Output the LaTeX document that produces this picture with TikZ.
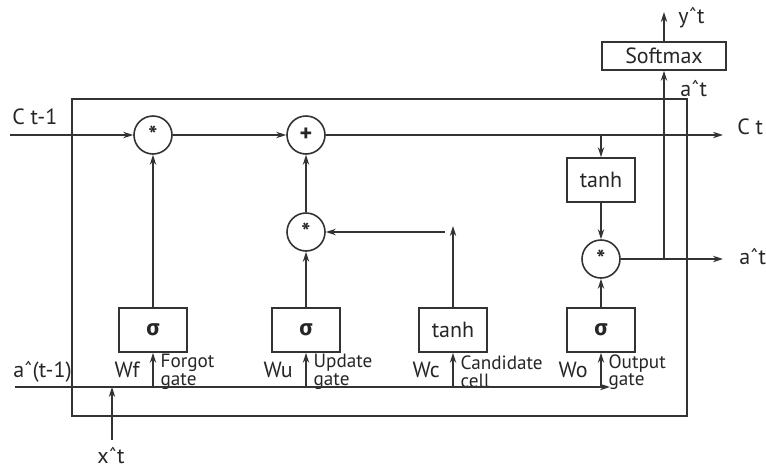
\documentclass[tikz,border=0pt]{standalone}
\usepackage{fontspec}
\setmainfont{PT Sans}
\newfontfamily\greekfont{Fira Sans}
\usetikzlibrary{positioning,arrows.meta}

\begin{document}
\begin{tikzpicture}[x=0.5pt, y=-0.5pt, line width=0.6pt, draw=black!80,
    >={Stealth[length=5pt, width=3.2pt]},
    every node/.style={font=\fontsize{11}{12}\selectfont, text=black!85},
    gbox/.style={rectangle, draw, line width=0.9pt, minimum width=34pt, minimum height=22pt, inner sep=0pt},
    op/.style={circle, draw, line width=0.8pt, fill=white, inner sep=0pt, minimum size=19pt, font=\fontsize{12}{12}\selectfont\bfseries},
    lbl/.style={inner sep=1pt, font=\fontsize{9.6}{8.8}\selectfont, align=left}]
\useasboundingbox (0,0) rectangle (766,467);
% cell border
\draw[line width=0.9pt] (72,99) rectangle (687,416);
% operators
\node[op] (mult1) at (153,135) {*};
\node[op] (plus) at (306,135) {+};
\node[op] (mult2) at (306,232) {*};
\node[op] (mult3) at (601,259) {*};
% gate boxes
\node[gbox] (sigF) at (153,330) {\greekfont\bfseries σ};
\node[gbox] (sigU) at (306,330) {\greekfont\bfseries σ};
\node[gbox] (tanhC) at (453,330) {tanh};
\node[gbox] (sigO) at (601,330) {\greekfont\bfseries σ};
\node[gbox] (tanhO) at (601,180) {tanh};
\node[gbox, minimum width=62pt, minimum height=14pt] (soft) at (664,56) {Softmax};
% ends
\coordinate (cin) at (10,135);
\coordinate (cout) at (723,135);
\coordinate (ain) at (15,387);
\coordinate (aend) at (610,387);
\coordinate (aout) at (723,259);
\coordinate (yout) at (664,12);
\coordinate (xin) at (112,440);
\coordinate (ctop) at (453,226);
\coordinate (cturn) at (445,232);
% texts
\node[anchor=west] (lcin) at (5,117) {C t-1};
\node[anchor=west] (lcout) at (730,127) {C t};
\node[anchor=west] (lain) at (6,372) {aˆ(t-1)};
\node[anchor=west] (laout) at (732,257) {aˆt};
\node[anchor=west] (lah) at (673,89) {aˆt};
\node[anchor=west] (ly) at (671,18) {yˆt};
\node (lx) at (111,456) {xˆt};
\foreach \g/\w/\t in {sigF/Wf/{Forgot\\gate}, sigU/Wu/{Update\\gate}, tanhC/Wc/{Candidate\\cell}, sigO/Wo/{Output\\gate}} {
    \node[anchor=east, yshift=1pt] (w\g) at ([xshift=-3pt]\g |- 0,372) {\w};
    \node[lbl, anchor=west] (t\g) at ([xshift=2.5pt]\g |- 0,372) {\t};
}
% cell state
\draw[->] (cin) -- (mult1);
\draw[->] (mult1) -- (plus);
\draw[->] (plus) -- (cout);
\draw[->] (tanhO |- plus) -- (tanhO);
% gates
\draw[->] (sigF) -- (mult1);
\draw[->] (sigU) -- (mult2);
\draw[->] (mult2) -- (plus);
\draw[->] (tanhC) -- (ctop);
\draw[->] (cturn) -- (mult2);
\draw[->] (tanhO) -- (mult3);
\draw[->] (sigO) -- (mult3);
% outputs
\draw[->] (mult3) -- (aout);
\draw[->] (soft |- mult3) -- (soft);
\draw[->] (soft) -- (yout);
% inputs
\draw[->] (ain) -- (aend);
\draw[->] (xin) -- (xin |- ain);
\foreach \g in {sigF,sigU,tanhC,sigO} {
    \draw[->] (\g |- ain) -- (\g);
}
\end{tikzpicture}
\end{document}
